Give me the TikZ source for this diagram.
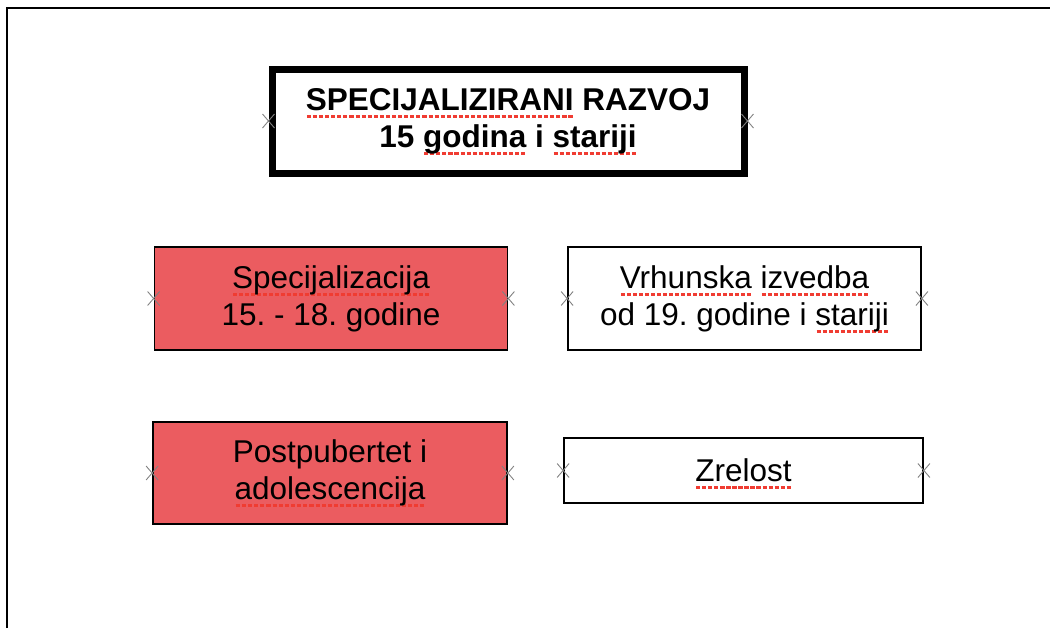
\documentclass[tikz,border=0pt]{standalone}
\usepackage{fontspec}
\setmainfont{Liberation Sans}
\usetikzlibrary{positioning}
\frenchspacing

\definecolor{stagered}{RGB}{235,92,96}
\definecolor{spellred}{RGB}{240,60,50}
\definecolor{markgray}{RGB}{130,130,130}

% red spelling marks under a word
\newcommand\spellmark[1]{\setbox0\hbox{#1}\rlap{\textcolor{spellred}{\raisebox{-0.24em}[0pt][0pt]{\hbox to\wd0{\xleaders\hbox{\kern0.03em\rule{0.13em}{0.09em}\kern0.03em}\hfill}}}}\box0\relax}

\begin{document}
\begin{tikzpicture}
    [
      x=0.5pt, y=-0.5pt,
      every node/.style={font=\fontsize{15.75}{18.5}\selectfont, align=center, inner sep=0pt},
      headbox/.style={draw, line width=3.5pt, minimum width=236pt, minimum height=52pt,
        font=\fontsize{15.75}{18.5}\selectfont\bfseries},
      redbox/.style={draw, line width=0.9pt, fill=stagered, minimum width=176.5pt, minimum height=51.5pt},
      whitebox/.style={draw, line width=0.9pt, minimum width=176.5pt, minimum height=51.5pt},
      sidemark/.style={markgray, line width=0.45pt},
    ]

    \useasboundingbox (0,0) rectangle (1050,628);
    \draw [line width=1.4pt] (7,628) |- (1050,8);

    \node (head-box) [headbox] at (508,121)
      {\spellmark{SPECIJALIZIRANI} RAZVOJ\\15 \spellmark{godina} i \spellmark{stariji}};

    \node (spec-box) [redbox] at (331,298.5)
      {\spellmark{Specijalizacija}\\15. - 18. godine};
    \node (peak-box) [whitebox] at (744.5,298.5)
      {\spellmark{Vrhunska} \spellmark{izvedba}\\od 19. godine i \spellmark{stariji}};

    \node (post-box) [redbox, minimum width=177pt, minimum height=51pt] at (330,473)
      {Postpubertet i\\\spellmark{adolescencija}};
    \node (mature-box) [whitebox, minimum width=179.5pt, minimum height=32.5pt] at (743.5,470.5)
      {\spellmark{Zrelost}};

    % small side marks
    \foreach \n in {head-box,spec-box,peak-box,post-box,mature-box}
      \foreach \a in {west,east}
        \draw [sidemark] (\n.\a) ++(-6,-7) -- ++(12,14) ++(-12,0) -- ++(12,-14);

\end{tikzpicture}
\end{document}
